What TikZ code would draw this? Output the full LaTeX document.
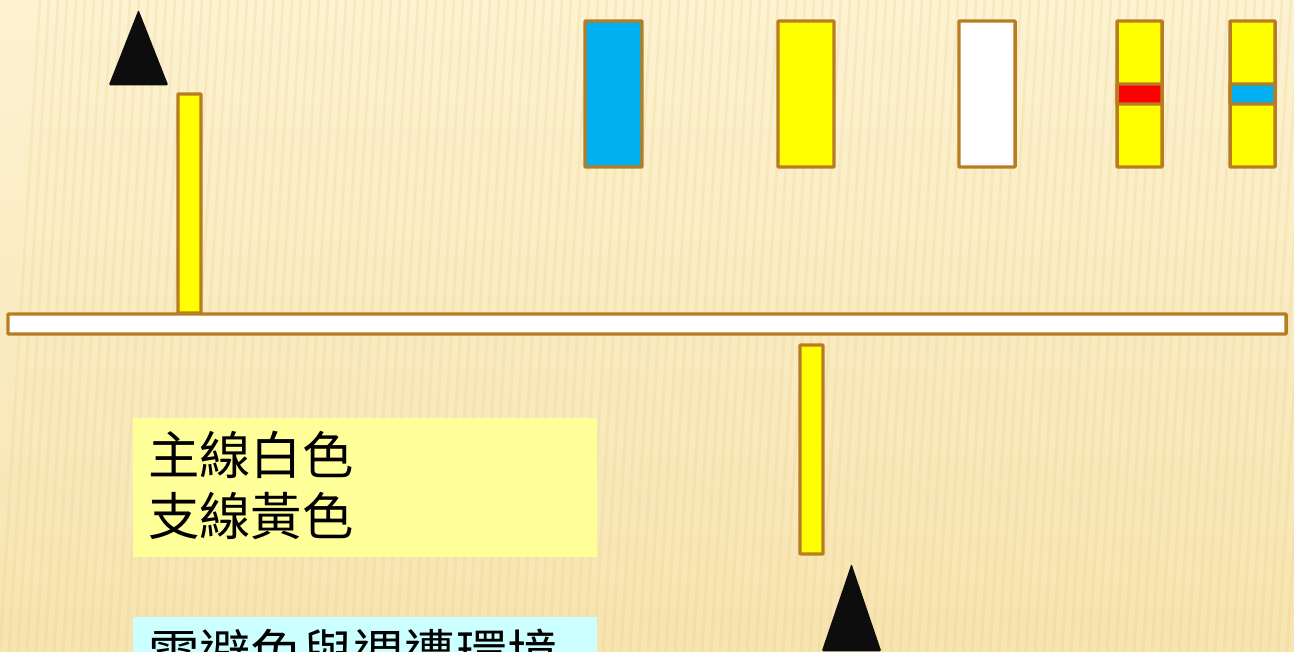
\documentclass[tikz,border=0pt]{standalone}
\usepackage{fontspec}
\newfontfamily\cjk{Noto Sans CJK TC}
\usetikzlibrary{fit}
\definecolor{bgA}{HTML}{FDF3D2}
\definecolor{bgB}{HTML}{F4DC9E}
\definecolor{edge}{HTML}{B87D22}
\definecolor{cblue}{HTML}{00B0F0}
\definecolor{cyel}{HTML}{FFFF00}
\definecolor{cred}{HTML}{FF0000}
\definecolor{noteY}{HTML}{FFFF99}
\definecolor{noteC}{HTML}{CCFFFF}
\definecolor{stripe}{HTML}{E8C87A}
\tikzset{
  bar/.style={draw=edge, line width=2.6pt, inner sep=0pt, rounded corners=0.6pt},
  pointer/.style={inner sep=0pt, draw=none, fill=none},
  note/.style={inner sep=0pt, draw=none},
  notetext/.style={font=\cjk\fontsize{38.5pt}{46pt}\selectfont, anchor=north west, inner sep=0pt, align=left}
}
\begin{document}
\begin{tikzpicture}[x=0.75pt,y=-0.75pt]
\useasboundingbox (0,0) rectangle (1294,651);
\clip (0,0) rectangle (1294,651);
% background
\shade[left color=bgA, right color=bgB, shading angle=0] (0,0) rectangle (1294,651);
\shade[top color=bgA, bottom color=bgA!60!bgB, opacity=0.6] (0,0) rectangle (1294,651);
\foreach \i in {0,9,...,1300} {
  \draw[stripe, opacity=0.2, line width=2pt] (\i,651) -- (\i+40,0);
}
% pointers
\node[pointer, fit={(109,85)(168,10)}] (ptop) {};
\fill[black!95, rounded corners=1pt] (ptop.south west) -- (ptop.north) -- (ptop.south east) -- cycle;
\node[pointer, fit={(822,651)(881,564)}] (pbot) {};
\fill[black!95, rounded corners=1pt] (pbot.south west) -- (pbot.north) -- (pbot.south east) -- cycle;
% main line
\node[bar, fill=white, fit={(8,314)(1286,334)}] (main) {};
% branches
\node[bar, fill=cyel, fit={(178,94)(201,313)}] (branchA) {};
\node[bar, fill=cyel, fit={(800,345)(823,554)}] (branchB) {};
% sample bars
\node[bar, fill=cblue, fit={(585,21)(642,167)}] (sblue) {};
\node[bar, fill=cyel, fit={(778,21)(834,167)}] (syellow) {};
\node[bar, fill=white, fit={(959,21)(1015,167)}] (swhite) {};
\node[bar, fill=cyel, fit={(1117,21)(1162,167)}] (sred) {};
\node[bar, fill=cred, fit={(1117,84)(1162,104)}] (sredband) {};
\node[bar, fill=cyel, fit={(1230,21)(1275,167)}] (scyan) {};
\node[bar, fill=cblue, fit={(1230,84)(1275,104)}] (scyanband) {};
% notes
\node[note, fill=noteY, fit={(133,418)(597,557)}] (note1) {};
\node[notetext] (note1txt) at (148,431) {主線白色\\支線黃色};
\node[note, fill=noteC, fit={(133,617)(597,700)}] (note2) {};
\node[notetext] (note2txt) at (148,629) {需避免與週遭環境};
\end{tikzpicture}
\end{document}
